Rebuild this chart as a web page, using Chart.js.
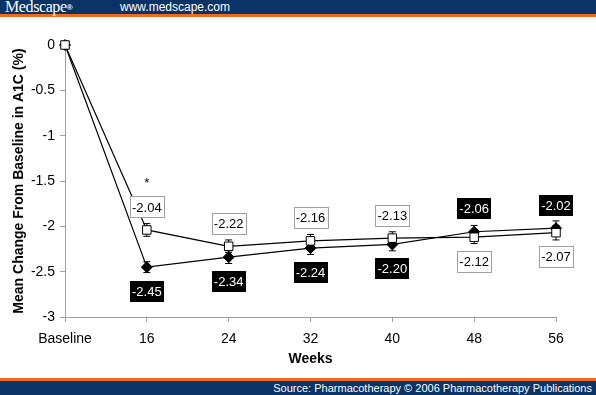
<!DOCTYPE html>
<html>
<head>
<meta charset="utf-8">
<script src="https://cdn.jsdelivr.net/npm/chart.js@4.4.0/dist/chart.umd.min.js"></script>
<style>
  body { margin: 0; background: #fff; }
  #wrap { position: relative; width: 596px; height: 395px; overflow: hidden; font-family: "Liberation Sans", Arial, sans-serif; }
  #chart { position: absolute; left: 0; top: 0; }
  .blue { position: absolute; left: 0; width: 596px; background: #0a3366; }
  .orange { position: absolute; left: 0; width: 596px; background: #f26a1b; }
  #brand { position: absolute; left: 5px; top: -2px; color: #fff; font: 16px "Liberation Serif", "Times New Roman", serif; letter-spacing: -0.4px; }
  #brand sup { font-size: 8px; font-family: "Liberation Sans", Arial, sans-serif; font-weight: bold; vertical-align: 2px; }
  #site { position: absolute; left: 120px; top: 0px; color: #fff; font-size: 12px; line-height: 14px; }
  #source { position: absolute; right: 4px; top: 381px; color: #fff; font-size: 11px; line-height: 14px; }
</style>
</head>
<body>
<div id="wrap">
  <canvas id="chart" width="596" height="395"></canvas>
  <div class="blue" style="top:0;height:14px"></div>
  <div class="orange" style="top:14px;height:3px"></div>
  <div id="brand">Medscape<sup>®</sup></div>
  <div id="site">www.medscape.com</div>
  <div class="orange" style="top:378px;height:3px"></div>
  <div class="blue" style="top:381px;height:14px"></div>
  <div id="source">Source: Pharmacotherapy © 2006 Pharmacotherapy Publications</div>
</div>
<script>
const weeks = ['Baseline', '16', '24', '32', '40', '48', '56'];
const openValues = [0, -2.04, -2.22, -2.16, -2.13, -2.12, -2.07];
const filledValues = [0, -2.45, -2.34, -2.24, -2.20, -2.06, -2.02];
const openErrors = [0, 0.07, 0.07, 0.07, 0.07, 0.07, 0.08];
const filledErrors = [0, 0.06, 0.07, 0.07, 0.07, 0.07, 0.08];
const openLabelSide = [null, 'above', 'above', 'above', 'above', 'below', 'below'];
const filledLabelSide = [null, 'below', 'below', 'below', 'below', 'above', 'above'];
const sigMarks = ['', '*', '', '', '', '', ''];

const errors = [openErrors, filledErrors];
const sides = [openLabelSide, filledLabelSide];
const FONT = '"Liberation Sans", Arial, sans-serif';

const errorBars = {
  id: 'errorBars',
  beforeDatasetsDraw(chart) {
    const ctx = chart.ctx;
    const y = chart.scales.y;
    ctx.save();
    ctx.strokeStyle = '#000';
    ctx.lineWidth = 1;
    chart.data.datasets.forEach((ds, i) => {
      chart.getDatasetMeta(i).data.forEach((pt, j) => {
        const e = errors[i][j];
        if (!e) return;
        const top = y.getPixelForValue(ds.data[j] + e);
        const bot = y.getPixelForValue(ds.data[j] - e);
        ctx.beginPath();
        ctx.moveTo(pt.x, top); ctx.lineTo(pt.x, bot);
        ctx.moveTo(pt.x - 3.5, top); ctx.lineTo(pt.x + 3.5, top);
        ctx.moveTo(pt.x - 3.5, bot); ctx.lineTo(pt.x + 3.5, bot);
        ctx.stroke();
      });
    });
    ctx.restore();
  }
};

const valueLabels = {
  id: 'valueLabels',
  afterDatasetsDraw(chart) {
    const ctx = chart.ctx;
    ctx.save();
    ctx.font = '13px ' + FONT;
    ctx.textAlign = 'center';
    ctx.textBaseline = 'middle';
    chart.data.datasets.forEach((ds, i) => {
      chart.getDatasetMeta(i).data.forEach((pt, j) => {
        const side = sides[i][j];
        if (!side) return;
        const txt = ds.data[j].toFixed(2);
        const cy = side === 'above' ? pt.y - 23 : pt.y + 24;
        const w = Math.round(ctx.measureText(txt).width + 4);
        const h = 21;
        const bx = Math.round(pt.x - w / 2);
        const by = Math.round(cy - h / 2);
        if (i === 0) {
          ctx.fillStyle = '#fff';
          ctx.fillRect(bx, by, w, h);
          ctx.strokeStyle = '#a0a0a0';
          ctx.lineWidth = 1;
          ctx.strokeRect(bx + 0.5, by + 0.5, w, h);
          ctx.fillStyle = '#000';
        } else {
          ctx.fillStyle = '#000';
          ctx.fillRect(bx, by, w, h);
          ctx.fillStyle = '#fff';
        }
        ctx.fillText(txt, pt.x, cy + 1);
        if (i === 0 && sigMarks[j]) {
          ctx.fillStyle = '#000';
          ctx.fillText(sigMarks[j], pt.x, cy - 24);
        }
      });
    });
    ctx.restore();
  }
};

new Chart(document.getElementById('chart'), {
  type: 'line',
  data: {
    labels: weeks,
    datasets: [
      {
        data: openValues,
        borderColor: '#000',
        borderWidth: 1.2,
        pointStyle: 'rect',
        pointRadius: 6,
        pointBackgroundColor: '#fff',
        pointBorderColor: '#000',
        pointBorderWidth: 1,
        tension: 0,
        clip: false
      },
      {
        data: filledValues,
        borderColor: '#000',
        borderWidth: 1.2,
        pointStyle: 'rectRot',
        pointRadius: 5.5,
        pointBackgroundColor: '#000',
        pointBorderColor: '#000',
        pointBorderWidth: 1,
        tension: 0,
        clip: false
      }
    ]
  },
  options: {
    responsive: false,
    animation: false,
    events: [],
    layout: { padding: { top: 45, right: 40, left: 0, bottom: 0 } },
    plugins: { legend: { display: false }, tooltip: { enabled: false } },
    scales: {
      x: {
        type: 'category',
        offset: false,
        afterFit(scale) { scale.height = 78; },
        grid: { drawOnChartArea: false, drawTicks: true, tickLength: 5, color: '#a0a0a0', offset: false },
        border: { color: '#a0a0a0', width: 1 },
        ticks: { color: '#000', font: { size: 14, family: FONT }, padding: 9, maxRotation: 0, autoSkip: false },
        title: { display: true, text: 'Weeks', color: '#000', font: { size: 14, weight: 'bold', family: FONT }, padding: { top: 0, bottom: 27 } }
      },
      y: {
        min: -3,
        max: 0,
        afterFit(scale) { scale.width = 65; },
        grid: { drawOnChartArea: false, drawTicks: true, tickLength: 5, color: '#a0a0a0' },
        border: { color: '#a0a0a0', width: 1 },
        ticks: { stepSize: 0.5, color: '#000', font: { size: 14, family: FONT }, padding: 5, callback: v => String(v) },
        title: { display: true, text: 'Mean Change From Baseline in A1C (%)', color: '#000', font: { size: 14, weight: 'bold', family: FONT }, padding: { top: 11, bottom: 0 } }
      }
    }
  },
  plugins: [errorBars, valueLabels]
});
</script>
</body>
</html>
